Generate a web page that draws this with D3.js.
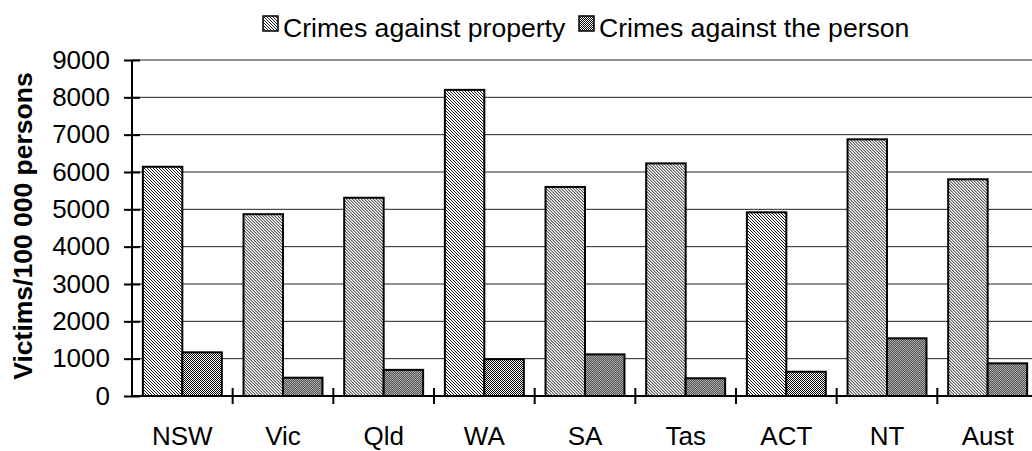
<!DOCTYPE html>
<html>
<head>
<meta charset="utf-8">
<script src="https://cdn.jsdelivr.net/npm/d3@7"></script>
<style>
  body { margin: 0; background: #fff; }
  svg { display: block; font-family: Arial, "Liberation Sans", sans-serif; }
</style>
</head>
<body>
<svg id="chart" width="1032" height="451"></svg>
<script>
const categories = ["NSW", "Vic", "Qld", "WA", "SA", "Tas", "ACT", "NT", "Aust"];
const series = ["Crimes against property", "Crimes against the person"];
const property = [6140, 4870, 5310, 8200, 5600, 6230, 4920, 6875, 5805];
const person = [1170, 490, 700, 985, 1115, 475, 650, 1545, 875];
const yTicks = [0, 1000, 2000, 3000, 4000, 5000, 6000, 7000, 8000, 9000];

const svg = d3.select("#chart");

const plotL = 132, plotR = 1038, plotT = 60, plotB = 396;

// patterns for the two series
const defs = svg.append("defs");
const p1 = defs.append("pattern").attr("id", "hatch").attr("patternUnits", "userSpaceOnUse")
    .attr("width", 3).attr("height", 3);
p1.append("rect").attr("width", 3).attr("height", 3).attr("fill", "#fff");
p1.append("path").attr("d", "M0,0 L3,3 M-1,2 L1,4 M2,-1 L4,1")
    .attr("stroke", "#000").attr("stroke-width", 0.9);

const p2 = defs.append("pattern").attr("id", "check").attr("patternUnits", "userSpaceOnUse")
    .attr("width", 2).attr("height", 2);
p2.append("rect").attr("width", 2).attr("height", 2).attr("fill", "#fff");
p2.append("rect").attr("width", 1).attr("height", 1).attr("fill", "#000");
p2.append("rect").attr("x", 1).attr("y", 1).attr("width", 1).attr("height", 1).attr("fill", "#000");

const fills = ["url(#hatch)", "url(#check)"];
const values = [property, person];

const x0 = d3.scaleBand().domain(categories).range([plotL, plotR]).padding(0);
const x1 = d3.scaleBand().domain(series).range([0, x0.bandwidth()])
    .paddingInner(0).paddingOuter(0.275);
const y = d3.scaleLinear().domain([0, 9000]).range([plotB, plotT]);

// gridlines
svg.append("g").selectAll("line").data(yTicks.slice(1)).join("line")
    .attr("x1", plotL).attr("x2", plotR)
    .attr("y1", d => y(d)).attr("y2", d => y(d))
    .attr("stroke", "#222").attr("stroke-width", 1);

// bars
const rows = categories.map((c, i) => ({ cat: c, vals: series.map((s, j) => ({ s, j, v: values[j][i] })) }));
svg.append("g").selectAll("g").data(rows).join("g")
    .attr("transform", d => `translate(${x0(d.cat)},0)`)
  .selectAll("rect").data(d => d.vals).join("rect")
    .attr("x", d => x1(d.s))
    .attr("y", d => y(d.v))
    .attr("width", x1.bandwidth())
    .attr("height", d => y(0) - y(d.v))
    .attr("fill", d => fills[d.j])
    .attr("stroke", "#000").attr("stroke-width", 2);

// y axis
const yAxis = svg.append("g").attr("transform", `translate(${plotL},0)`)
    .call(d3.axisLeft(y).tickValues(yTicks).tickSize(8).tickPadding(14).tickFormat(d3.format("d")));
yAxis.select(".domain").remove();
yAxis.selectAll(".tick line").attr("x1", -8).attr("x2", 8).attr("stroke", "#000").attr("stroke-width", 2);
yAxis.append("line").attr("y1", plotT).attr("y2", plotB).attr("stroke", "#000").attr("stroke-width", 2);
yAxis.selectAll("text").attr("font-size", 26).attr("fill", "#000").attr("x", -22);

// x axis
const boundaries = categories.map(c => x0(c));
const xg = svg.append("g");
xg.append("line").attr("x1", plotL).attr("x2", plotR).attr("y1", plotB).attr("y2", plotB)
    .attr("stroke", "#000").attr("stroke-width", 2);
xg.selectAll("line.tk").data(boundaries.slice(1).concat([plotR])).join("line").attr("class", "tk")
    .attr("x1", d => d).attr("x2", d => d).attr("y1", plotB - 8).attr("y2", plotB + 8)
    .attr("stroke", "#000").attr("stroke-width", 2);
xg.selectAll("text").data(categories).join("text")
    .attr("x", d => x0(d) + x0.bandwidth() / 2).attr("y", 445)
    .attr("text-anchor", "middle").attr("font-size", 26).attr("fill", "#000")
    .text(d => d);

// y title
svg.append("text")
    .attr("transform", `translate(32,226) rotate(-90)`)
    .attr("text-anchor", "middle").attr("font-size", 26.5).attr("font-weight", "bold")
    .text("Victims/100 000 persons");

// legend
const legendX = [263, 579];
const lg = svg.append("g").selectAll("g").data(series).join("g")
    .attr("transform", (d, i) => `translate(${legendX[i]},16)`);
lg.append("rect").attr("width", 15).attr("height", 15)
    .attr("fill", (d, i) => fills[i]).attr("stroke", "#000").attr("stroke-width", 1.5);
lg.append("text").attr("x", 20).attr("y", 21).attr("font-size", 26.6).attr("fill", "#000").text(d => d);
</script>
</body>
</html>
